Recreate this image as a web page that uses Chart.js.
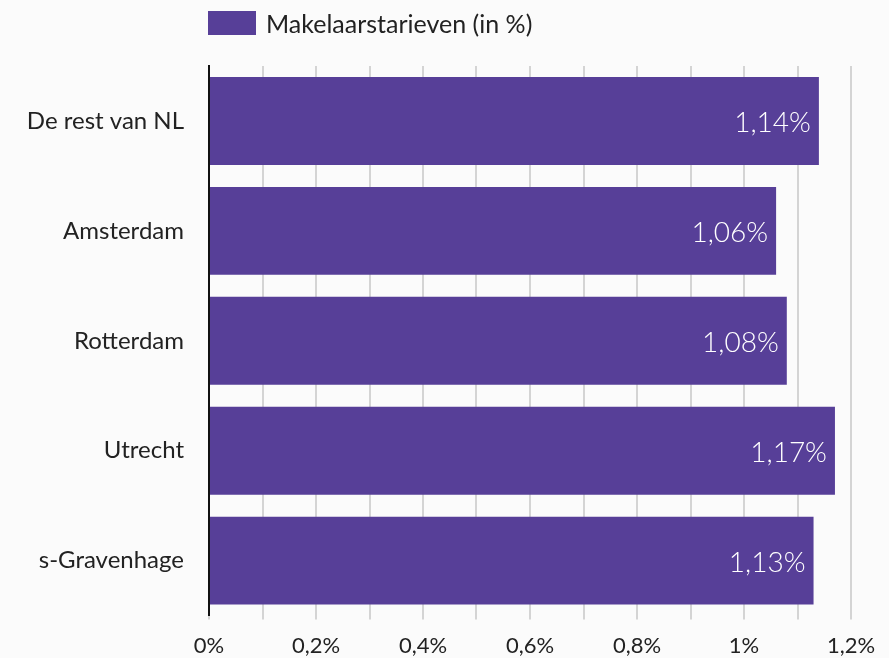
<!DOCTYPE html>
<html>
<head>
<meta charset="utf-8">
<script src="https://cdn.jsdelivr.net/npm/chart.js@4.4.1/dist/chart.umd.min.js"></script>
<style>
    html, body { margin: 0; padding: 0; background: #fbfbfb; }
    #wrap { position: relative; width: 889px; height: 658px; }
    #legend { position: absolute; left: 208px; top: 8px; display: flex; align-items: center;
        font-family: Lato, sans-serif; font-size: 25px; color: #222; }
    #legend span.box { width: 48px; height: 24px; background: #573f98; margin-right: 10px; display: inline-block; }
</style>
</head>
<body>
<div id="wrap">
    <canvas id="barChart" width="889" height="658"></canvas>
    <div id="legend"><span class="box"></span><span>Makelaarstarieven (in %)</span></div>
</div>
<script>
const regions = ['De rest van NL', 'Amsterdam', 'Rotterdam', 'Utrecht', 's-Gravenhage'];
const rates = [1.14, 1.06, 1.08, 1.17, 1.13];
const tickLabels = ['0%', '0,2%', '0,4%', '0,6%', '0,8%', '1%', '1,2%'];

const fmt = v => String(v).replace('.', ',') + '%';

// draws the value at the end of each bar
const valueLabels = {
    id: 'valueLabels',
    afterDatasetsDraw(chart) {
        const ctx = chart.ctx;
        const meta = chart.getDatasetMeta(0);
        ctx.save();
        ctx.fillStyle = '#fff';
        ctx.font = '300 28px Lato, sans-serif';
        ctx.textAlign = 'right';
        ctx.textBaseline = 'middle';
        meta.data.forEach((bar, i) => {
            ctx.fillText(fmt(rates[i]), bar.x - 8, bar.y + 2);
        });
        ctx.restore();
    }
};

window.addEventListener('DOMContentLoaded', () => {
    const ctx = document.getElementById('barChart').getContext('2d');
    new Chart(ctx, {
        type: 'bar',
        data: {
            labels: regions,
            datasets: [{ label: 'Makelaarstarieven (in %)', data: rates, backgroundColor: '#573f98',
                barPercentage: 1, categoryPercentage: 0.8 }]
        },
        options: {
            indexAxis: 'y',
            responsive: false,
            animation: false,
            layout: { padding: { top: 66, right: 38, left: 10, bottom: -14 } },
            plugins: { legend: { display: false }, tooltip: { enabled: false } },
            scales: {
                x: {
                    min: 0, max: 1.2,
                    ticks: {
                        stepSize: 0.1, autoSkip: false, maxRotation: 0, padding: 13,
                        color: '#222', font: { family: 'Lato', size: 22 },
                        callback: (v, i) => i % 2 === 0 ? tickLabels[i / 2] : ''
                    },
                    grid: { color: '#d4d4d4', lineWidth: 2, drawTicks: true, tickLength: 4 },
                    border: { display: false }
                },
                y: {
                    afterFit: s => { s.width = 199; },
                    ticks: { color: '#222', font: { family: 'Lato', size: 24 }, padding: 25 },
                    grid: { display: false, drawTicks: false },
                    border: { color: '#111', width: 2 }
                }
            }
        },
        plugins: [valueLabels]
    });
});
</script>
</body>
</html>
